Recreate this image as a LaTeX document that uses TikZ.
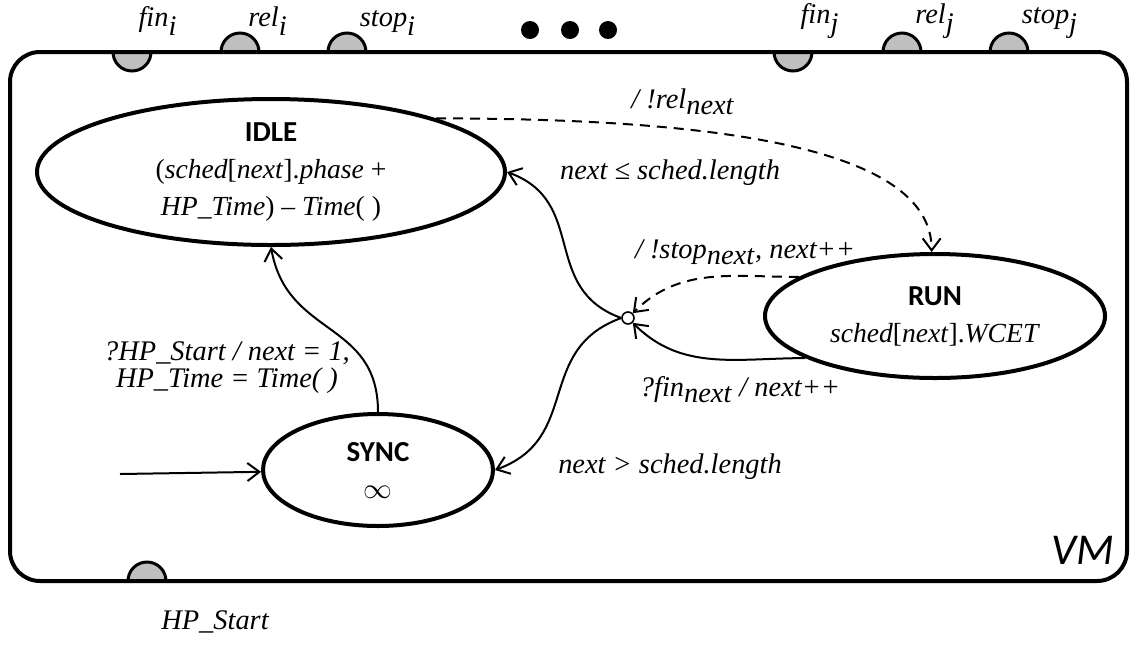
\documentclass[tikz,border=0pt]{standalone}
\usepackage{fontspec}
\setmainfont{Liberation Serif}
\newfontfamily\statefont{Carlito}
\usetikzlibrary{arrows.meta,positioning,shapes.geometric}
\definecolor{portfill}{HTML}{BFBFBF}
\newcommand{\stname}[1]{{\statefont\bfseries\fontsize{14.5}{16}\selectfont #1}}

\begin{document}
\begin{tikzpicture}[x=0.5pt,y=0.5pt,font=\fontsize{13.8}{18.5}\selectfont,
state/.style={ellipse,draw,line width=2pt,inner sep=0pt,align=center},
lbl/.style={font=\fontsize{14.2}{13.5}\selectfont\itshape,inner sep=0pt,align=center},
port/.style={draw,line width=1.5pt,fill=portfill},
arr/.style={-{Straight Barb[length=6pt,width=9pt]},line width=1pt},
dashline/.style={dash pattern=on 5pt off 3.5pt},
frame/.style={draw,line width=2pt,rounded corners=15pt}]
\useasboundingbox (0,0) rectangle (1130,-644);
\filldraw[port] (113,-52) arc[start angle=180,end angle=360,radius=19];
\filldraw[port] (221,-52) arc[start angle=180,end angle=0,radius=19];
\filldraw[port] (328,-52) arc[start angle=180,end angle=0,radius=19];
\filldraw[port] (774,-52) arc[start angle=180,end angle=360,radius=19];
\filldraw[port] (883,-52) arc[start angle=180,end angle=0,radius=19];
\filldraw[port] (990,-52) arc[start angle=180,end angle=0,radius=19];
\filldraw[port] (128,-581) arc[start angle=180,end angle=0,radius=19];
\draw[frame] (10,-52) rectangle (1127,-581);
\node[lbl] (fini) at (158,-21) {fin$_{\textit{i}}$};
\node[lbl] (reli) at (268,-21) {rel$_{\textit{i}}$};
\node[lbl] (stopi) at (388,-23) {stop$_{\textit{i}}$};
\node[lbl] (finj) at (820,-21) {fin$_{\textit{j}}$};
\node[lbl] (relj) at (935,-21) {rel$_{\textit{j}}$};
\node[lbl] (stopj) at (1050,-23) {stop$_{\textit{j}}$};
\node[lbl] (hpstart) at (215,-622) {HP\_Start};
\foreach \x in {530,570,608} \fill (\x,-30) circle[radius=9];
\node[state,minimum width=234pt,minimum height=73pt] (idle) at (271,-172)
  {\stname{IDLE}\\(\textit{sched}[\textit{next}].\textit{phase} +\\\textit{HP\_Time}) -- \textit{Time}( )};
\node[state,minimum width=170pt,minimum height=62pt] (run) at (935,-316)
  {\stname{RUN}\\\textit{sched}[\textit{next}].\textit{WCET}};
\node[state,minimum width=115pt,minimum height=56pt] (sync) at (378,-470)
  {\stname{SYNC}\\$\infty$};
\node[circle,draw,fill=white,line width=0.8pt,minimum size=6pt,inner sep=0pt] (jn) at (628,-318) {};
\coordinate (init) at (120,-474);
\draw[arr] (init) -- (sync);
\draw[arr] (sync.north) to[out=90,in=-80,looseness=1.2] (idle.south);
\draw[arr] (jn.west) to[out=160,in=-20,looseness=1.2] (idle.east);
\draw[arr] (jn.west) to[out=200,in=20,looseness=1.2] (sync.east);
\draw[arr,dashline] (idle.18) to[out=0,in=90,out looseness=1.5,in looseness=0.5] (run.93);
\draw[arr,dashline] (run.164) to[out=180,in=45] (jn);
\draw[arr] (run.198) to[out=180,in=-45] (jn);
\node[lbl] (lblrel) at (683,-102) {/ !rel$_{\textit{next}}$};
\node[lbl] (lblle) at (670,-173) {next ≤ sched.length};
\node[lbl] (lblstop) at (745,-252) {/ !stop$_{\textit{next}}$, next++};
\node[lbl] (lblfin) at (740,-390) {?fin$_{\textit{next}}$ / next++};
\node[lbl] (lblgt) at (670,-467) {next > sched.length};
\node[lbl] (lblsync) at (227,-368)
  {?HP\_Start / next = 1,\\HP\_Time = Time( )};
\node[font=\statefont\itshape\fontsize{22}{22}\selectfont] (vm) at (1083,-550) {VM};
\end{tikzpicture}
\end{document}
